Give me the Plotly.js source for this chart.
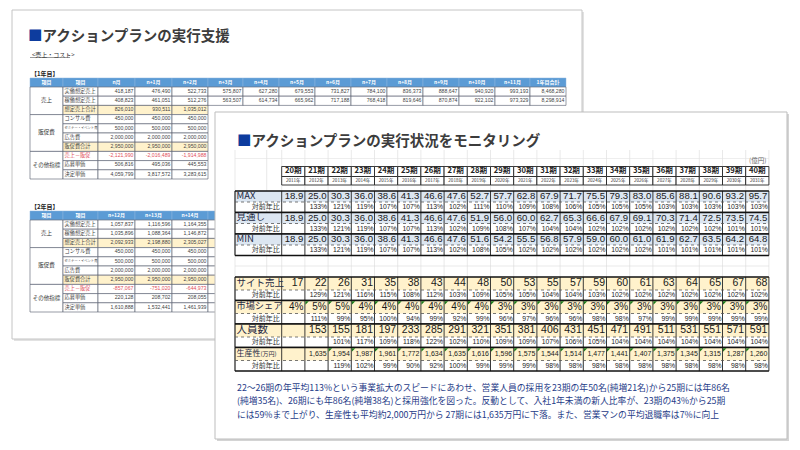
<!DOCTYPE html>
<html><head><meta charset="utf-8">
<script src="https://cdn.plot.ly/plotly-3.0.1.min.js"></script>
<style>
html,body{margin:0;padding:0;background:#fff;width:800px;height:450px;overflow:hidden}
.layer{position:absolute;left:0;top:0;width:800px;height:450px}
</style></head><body>
<div id="card1" class="layer"></div>
<div id="card2" class="layer"></div>
<script>
// ================= DATA : card 1 (実行支援) =================
const c1Title = 'アクションプランの実行支援';
const c1Sub = '&lt;売上・コスト&gt;';
const c1Year1 = '【1年目】';
const c1Year2 = '【2年目】';
const t1Head = ['項目','項目','n月','n+1月','n+2月','n+3月','n+4月','n+5月','n+6月','n+7月','n+8月','n+9月','n+10月','n+11月','1年目合計'];
const t2Head = ['項目','項目','n+12月','n+13月','n+14月','n+15月'];
const groupNames = ['売上','販促費','その他指標'];
const groupSpans = [3,4,3];
const itemNames = ['実働想定売上','稼働想定売上','想定売上合計','コンサル費','セミナー・イベント費','広告費','販促費合計','売上－販促','応募単価','決定単価'];
const y1Sales1 = [418187,476490,522733,575807,627280,679553,731827,784100,836373,888647,940920,993193,8468280];
const y1Sales2 = [408823,461051,512276,563507,614734,665962,717188,768418,819646,870874,922102,973329,8298914];
const y1Total  = [826010,930511,1035012];
const y1Consul = [450000,450000,450000];
const y1Seminar= [500000,500000,500000];
const y1Ad     = [2000000,2000000,2000000];
const y1Promo  = [2950000,2950000,2950000];
const y1Margin = [-2121990,-2016489,-1914988];
const y1Apply  = [506816,495036,445553];
const y1Hire   = [4059799,3817572,3283615];
const y2Sales1 = [1057837,1116596,1164355];
const y2Sales2 = [1035896,1088364,1146872];
const y2Total  = [2092933,2198880,2305027];
const y2Consul = [450000,450000,450000];
const y2Seminar= [500000,500000,500000];
const y2Ad     = [2000000,2000000,2000000];
const y2Promo  = [2950000,2950000,2950000];
const y2Margin = [-857067,-751020,-644973];
const y2Apply  = [220128,208702,208055];
const y2Hire   = [1610888,1532441,1461939];

// ================= DATA : card 2 (モニタリング) =================
const c2Title = 'アクションプランの実行状況をモニタリング';
const unitLabel = '(億円)';
const periods = ['20期','21期','22期','23期','24期','25期','26期','27期','28期','29期','30期','31期','32期','33期','34期','35期','36期','37期','38期','39期','40期'];
const years = ['2011年','2012年','2013年','2014年','2015年','2016年','2017年','2018年','2019年','2020年','2021年','2022年','2023年','2024年','2025年','2026年','2027年','2028年','2029年','2030年','2031年'];
const yoyLabel = '対前年比';
const upLabels = ['MAX','見通し','MIN'];
const maxVals = [18.9,25.0,30.3,36.0,38.6,41.3,46.6,47.6,52.7,57.7,62.8,67.9,71.7,75.5,79.3,83.0,85.6,88.1,90.6,93.2,95.7];
const maxYoY  = [null,133,121,119,107,107,113,102,111,110,109,108,106,105,105,105,103,103,103,103,103];
const fcVals  = [18.9,25.0,30.3,36.0,38.6,41.3,46.6,47.6,51.9,56.0,60.0,62.7,65.3,66.6,67.9,69.1,70.3,71.4,72.5,73.5,74.5];
const fcYoY   = [null,133,121,119,107,107,113,102,109,108,107,104,104,102,102,102,102,102,102,101,101];
const minVals = [18.9,25.0,30.3,36.0,38.6,41.3,46.6,47.6,51.6,54.2,55.5,56.8,57.9,59.0,60.0,61.0,61.9,62.7,63.5,64.2,64.8];
const minYoY  = [null,133,121,119,107,107,113,102,108,105,102,102,102,102,102,102,101,101,101,101,101];
const loLabels = ['サイト売上','市場シェア','人員数','生産性<span style="font-size:6px">(万円)</span>'];
const siteSales = [17,22,26,31,35,38,43,44,48,50,53,55,57,59,60,61,63,64,65,67,68];
const siteYoY   = [null,129,121,116,115,108,112,103,109,105,105,104,104,103,102,102,102,102,102,102,102];
const share     = [4,5,5,4,4,4,4,4,4,3,3,3,3,3,3,3,3,3,3,3,3];
const shareYoY  = [null,111,99,95,100,94,99,92,99,96,97,96,96,98,98,97,99,99,99,99,99];
const staff     = [null,153,155,181,197,233,285,291,321,351,381,406,431,451,471,491,511,531,551,571,591];
const staffYoY  = [null,null,101,117,109,118,122,102,110,109,109,107,106,105,104,104,104,104,104,104,104];
const prod      = [null,1635,1954,1987,1961,1772,1634,1635,1616,1596,1575,1544,1514,1477,1441,1407,1375,1345,1315,1287,1260];
const prodYoY   = [null,null,119,102,99,90,92,100,99,99,99,98,98,98,98,98,98,98,98,98,98];
const noteLines = [
  '22～26期の年平均113%という事業拡大のスピードにあわせ、営業人員の採用を23期の年50名(純増21名)から25期には年86名',
  '(純増35名)、26期にも年86名(純増38名)と採用強化を図った。反動として、入社1年未満の新人比率が、23期の43%から25期',
  'には59%まで上がり、生産性も平均約2,000万円から 27期には1,635万円に下落。また、営業マンの平均退職率は7%に向上'
];

// ================= STYLE / GEOMETRY =================
const JP = '"Noto Sans CJK JP","Noto Sans",sans-serif';
const NUM = '"Liberation Sans Narrow","Liberation Sans",Arial,sans-serif';
const G1 = {
  card:[12,10,582,339], cols:[30,63,98,135,172,208,243,279,315,351,387,423,459,495,530,566],
  t1Top:78, t2Top:211, headH:9, rowH:9.2, headFill:'#5b9bd5', line:'#50586a', yellow:'#fff2cc',
  yellowRows:[2,6], redRows:[7], red:'#e2505a',
  t1Cols:[13,13,3,3,3,3,3,3,3,3], t2Cols:[4,4,4,4,4,4,4,4,4,4]
};
const G2 = {
  card:[215,112,787,439], lab0:235, labMid:266.7, col0:281.7, colW:23.2,
  perY0:166.5, perY1:176.5, yrY1:185, gridTop:150, gridBottom:372,
  upTop:191, upMain:11, upYoy:10.5, loTop:277, loMain:13, loYoy:10.5,
  blue:'#dce6f1', yellow:'#fff2cc', dark:'#262626', green:'#1b7a1b',
  shareTriFrom:1, prodTriFrom:2
};

// ================= HELPERS =================
function box(x0,y0,x1,y1,fill,lc,lw){return {type:'rect',xref:'x',yref:'y',x0,y0,x1,y1,layer:'below',fillcolor:fill||'rgba(0,0,0,0)',line:{color:lc||'rgba(0,0,0,0)',width:lw||0}};}
function ln(x0,y0,x1,y1,lc,lw,dash){return {type:'line',xref:'x',yref:'y',x0,y0,x1,y1,layer:'below',line:{color:lc,width:lw,dash:dash||'solid'}};}
function ann(x,y,text,size,color,anchor,fam,weight){return {xref:'x',yref:'y',x,y,text,showarrow:false,xanchor:anchor||'left',yanchor:'middle',font:{size,color,family:fam||JP,weight:weight||'normal'}};}
function textTraces(list){
  const g={};
  list.forEach(d=>{const k=[d.pos,d.size,d.color,d.fam].join('|');
    if(!g[k]) g[k]={x:[],y:[],t:[],pos:d.pos,size:d.size,color:d.color,fam:d.fam};
    g[k].x.push(d.x); g[k].y.push(d.y); g[k].t.push(d.t);});
  return Object.values(g).map(o=>({type:'scatter',mode:'text',x:o.x,y:o.y,text:o.t,textposition:o.pos,
    textfont:{size:o.size,color:o.color,family:o.fam},hoverinfo:'skip',showlegend:false,cliponaxis:false}));
}
function baseLayout(bg){return {width:800,height:450,margin:{l:0,r:0,t:0,b:0},paper_bgcolor:bg,plot_bgcolor:'rgba(0,0,0,0)',
  xaxis:{range:[0,800],visible:false,fixedrange:true},yaxis:{range:[450,0],visible:false,fixedrange:true},showlegend:false,shapes:[],annotations:[]};}
const fmtN = v => v==null ? '' : v.toLocaleString('en-US');
const fmtP = v => v==null ? '' : v+'%';
const cfg = {staticPlot:true,displayModeBar:false};

// ================= CARD 1 =================
(function(){
  const L = baseLayout('#ffffff'); const S=L.shapes; const T=[];
  const c=G1.card;
  S.push(box(c[0]+2,c[1]+2,c[2]+2,c[3]+2,'#e2e2e2'));
  S.push(box(c[0],c[1],c[2],c[3],'#fff','#c4c4c4',1));
  L.annotations.push(ann(26,34,'<span style="color:#0d3c9e">■</span>'+c1Title,14.5,'#3c3c3c','left',JP,'bold'));
  L.annotations.push(ann(30,54,c1Sub,6,'#333'));
  S.push(ln(30,57.5,70,57.5,'#555',0.6));
  L.annotations.push(ann(29,73,'<b>'+c1Year1+'</b>',6,'#222'));
  L.annotations.push(ann(29,206,'<b>'+c1Year2+'</b>',6,'#222'));
  function sheet(top, head, rows, nCols){
    const E=G1.cols, hb=top+G1.headH;
    head.forEach((h,i)=>{S.push(box(E[i],top,E[i+1],hb,G1.headFill,'#8fb4dd',0.5));
      T.push({x:(E[i]+E[i+1])/2,y:(top+hb)/2,t:'<b>'+h+'</b>',pos:'middle center',size:5,color:'#ffffff',fam:JP});});
    let r0=0;
    groupSpans.forEach((n,gi)=>{const y0=hb+r0*G1.rowH,y1=hb+(r0+n)*G1.rowH;
      S.push(box(E[0],y0,E[1],y1,'#fff',G1.line,0.6));
      T.push({x:(E[0]+E[1])/2,y:(y0+y1)/2,t:groupNames[gi],pos:'middle center',size:5.5,color:'#333',fam:JP}); r0+=n;});
    rows.forEach((vals,r)=>{
      const y0=hb+r*G1.rowH,y1=y0+G1.rowH,ym=(y0+y1)/2;
      const fill=G1.yellowRows.includes(r)?G1.yellow:'#fff';
      const col=G1.redRows.includes(r)?G1.red:'#444';
      S.push(box(E[1],y0,E[2],y1,fill,G1.line,0.6));
      T.push({x:E[1]+1.5,y:ym,t:itemNames[r],pos:'middle right',size:itemNames[r].length>8?3.3:5.2,color:col,fam:JP});
      for(let k=0;k<nCols[r];k++){
        S.push(box(E[k+2],y0,E[k+3],y1,fill,G1.line,0.6));
        if(k<vals.length) T.push({x:E[k+3]-1.5,y:ym,t:fmtN(vals[k]),pos:'middle left',size:5.2,color:col,fam:NUM});
      }
    });
  }
  sheet(G1.t1Top,t1Head,[y1Sales1,y1Sales2,y1Total,y1Consul,y1Seminar,y1Ad,y1Promo,y1Margin,y1Apply,y1Hire],G1.t1Cols);
  sheet(G1.t2Top,t2Head,[y2Sales1,y2Sales2,y2Total,y2Consul,y2Seminar,y2Ad,y2Promo,y2Margin,y2Apply,y2Hire],G1.t2Cols);
  Plotly.newPlot('card1',textTraces(T),L,cfg);
})();

// ================= CARD 2 =================
(function(){
  const L = baseLayout('rgba(0,0,0,0)'); const S=L.shapes; const T=[]; const A=L.annotations;
  const c=G2.card;
  S.push(box(c[0]+2,c[1]+2,c[2]+2,c[3]+2,'#d4d4d4'));
  S.push(box(c[0],c[1],c[2],c[3],'#fff','#bdbdbd',1));
  A.push(ann(235,139,'<span style="color:#0d3c9e">■</span>'+c2Title,14.5,'#3c3c3c','left',JP,'bold'));
  const n=periods.length, X=i=>G2.col0+i*G2.colW, xR=X(n);
  // faint spreadsheet grid
  [G2.lab0,G2.labMid].concat(periods.map((p,i)=>X(i))).concat([xR]).forEach(x=>S.push(ln(x,G2.gridTop,x,G2.gridBottom,'#dadada',0.6)));
  S.push(ln(G2.lab0,158.5,xR,158.5,'#e2e2e2',0.6));
  S.push(ln(G2.lab0,266,xR,266,'#dadada',0.6));
  A.push(ann(xR-1,160,unitLabel,6.5,'#666','right'));
  // header rows
  periods.forEach((p,i)=>{
    S.push(box(X(i),G2.perY0,X(i+1),G2.perY1,'#fff',G2.dark,0.9));
    S.push(box(X(i),G2.perY1,X(i+1),G2.yrY1,'#fff',G2.dark,0.9));
    T.push({x:(X(i)+X(i+1))/2,y:(G2.perY0+G2.perY1)/2,t:'<b>'+p+'</b>',pos:'middle center',size:7.6,color:'#222',fam:JP});
    T.push({x:(X(i)+X(i+1))/2,y:(G2.perY1+G2.yrY1)/2,t:years[i],pos:'middle center',size:4.6,color:'#333',fam:JP});
  });
  function block(top, mainH, yoyH, labels, mains, yoys, mainFmt, fill, labelSizes, mainSizes, yoySize, tri){
    labels.forEach((lab,p)=>{
      const y0=top+p*(mainH+yoyH), y1=y0+mainH, y2=y1+yoyH;
      S.push(box(G2.lab0,y0,xR,y1,fill));
      S.push(ln(G2.lab0,y0,G2.lab0,y2,G2.dark,1.2));
      for(let i=0;i<=n;i++) S.push(ln(X(i),y0,X(i),y2,G2.dark,0.9));
      S.push(ln(G2.lab0,y1,xR,y1,'#555',0.8,'dot'));
      S.push(ln(G2.lab0,y0,xR,y0,'#111',1.5));
      S.push(ln(G2.lab0,y2,xR,y2,'#111',1.5));
      T.push({x:G2.lab0+1.5,y:(y0+y1)/2,t:lab,pos:'middle right',size:labelSizes[p],color:'#1f2a44',fam:JP});
      T.push({x:X(0)-2,y:(y1+y2)/2,t:yoyLabel,pos:'middle left',size:7,color:'#333',fam:JP});
      mains[p].forEach((v,i)=>{ if(v!=null) T.push({x:X(i+1)-1.5,y:(y0+y1)/2+0.3,t:mainFmt[p](v),pos:'middle left',size:mainSizes[p],color:'#1a1a1a',fam:NUM}); });
      yoys[p].forEach((v,i)=>{ if(v!=null) T.push({x:X(i+1)-1,y:(y1+y2)/2+0.3,t:fmtP(v),pos:'middle left',size:yoySize,color:'#222',fam:NUM}); });
      if(tri && tri[p]!=null){
        for(let i=tri[p];i<n;i++){ const x=X(i)+0.5,y=y0+0.8;
          S.push({type:'path',xref:'x',yref:'y',layer:'below',path:`M${x},${y} L${x+3.5},${y} L${x},${y+3.5} Z`,fillcolor:G2.green,line:{width:0}}); }
      }
    });
  }
  const f1 = v => v.toFixed(1);
  block(G2.upTop,G2.upMain,G2.upYoy,upLabels,[maxVals,fcVals,minVals],[maxYoY,fcYoY,minYoY],[f1,f1,f1],G2.blue,[9.5,9.5,9.5],[9.6,9.6,9.6],6.8,null);
  block(G2.loTop,G2.loMain,G2.loYoy,loLabels,[siteSales,share,staff,prod],[siteYoY,shareYoY,staffYoY,prodYoY],
    [v=>String(v),v=>v+'%',v=>String(v),fmtN],G2.yellow,[9.5,9.2,10.5,8],[10.5,10,10.5,7],6.8,[null,G2.shareTriFrom,null,G2.prodTriFrom]);
  noteLines.forEach((t,i)=>A.push(ann(235,387+i*13.6,t,8.8,'#1f3c88','left')));
  Plotly.newPlot('card2',textTraces(T),L,cfg);
})();
</script>
</body></html>
